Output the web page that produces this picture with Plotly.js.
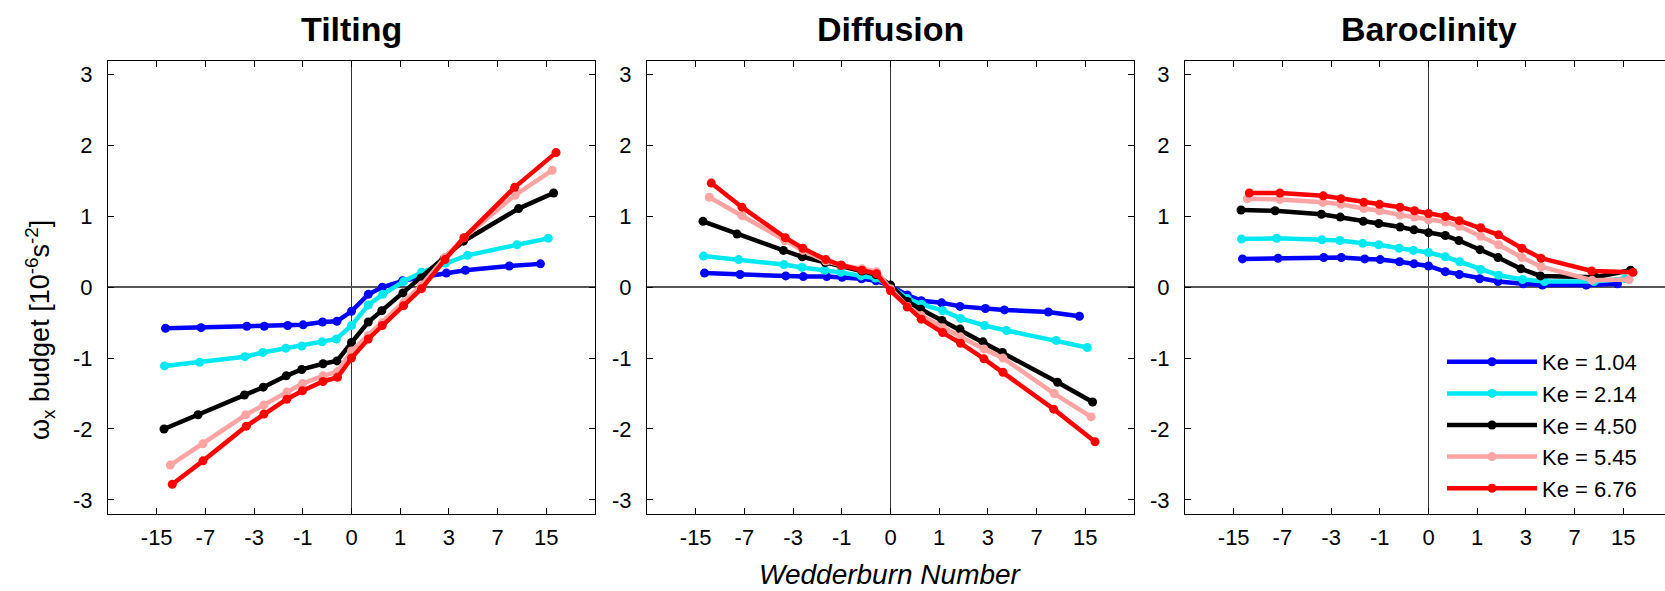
<!DOCTYPE html>
<html>
<head>
<meta charset="utf-8">
<script src="https://cdn.plot.ly/plotly-3.0.1.min.js"></script>
<style>
html,body{margin:0;padding:0;overflow:hidden;background:#fff;}
#chart{width:1680px;height:591px;}
</style>
</head>
<body>
<div id="chart"></div>
<script>
// ---------------- data ----------------
const panelTitles = ["Tilting", "Diffusion", "Baroclinity"];
const xTickLabels = [-15, -7, -3, -1, 0, 1, 3, 7, 15];
const yTickValues = [-3, -2, -1, 0, 1, 2, 3];
const keLabels = ["Ke = 1.04", "Ke = 2.14", "Ke = 4.50", "Ke = 5.45", "Ke = 6.76"];

// Wedderburn numbers of each run (one list per Ke)
const wed_ke104 = [-13.12, -7.51, -3.44, -2.46, -1.48, -0.99, -0.51, -0.23, 0, 0.27, 0.55, 1.07, 1.69, 2.86, 4.06, 8.45, 13.72];
const wed_ke214 = [-13.32, -7.69, -3.56, -2.53, -1.55, -1.03, -0.52, -0.24, 0, 0.27, 0.56, 1.10, 1.71, 2.81, 4.21, 9.56, 15.45];
const wed_ke450 = [-13.42, -7.88, -3.59, -2.51, -1.53, -1.03, -0.50, -0.23, 0, 0.27, 0.54, 1.08, 1.69, 2.73, 3.92, 9.78, 16.75];
const wed_ke545 = [-12.18, -7.28, -3.50, -2.48, -1.51, -1.01, -0.50, -0.22, 0, 0.27, 0.55, 1.10, 1.71, 2.78, 3.96, 9.27, 16.39];
const wed_ke676 = [-11.82, -7.28, -3.47, -2.48, -1.51, -1.01, -0.50, -0.22, 0, 0.27, 0.55, 1.10, 1.71, 2.78, 3.96, 9.20, 17.38];

// Tilting
const tilt_ke104 = [-0.58, -0.57, -0.55, -0.55, -0.54, -0.53, -0.49, -0.48, -0.34, -0.10, 0.00, 0.09, 0.14, 0.20, 0.24, 0.30, 0.33];
const tilt_ke214 = [-1.11, -1.06, -0.98, -0.92, -0.86, -0.83, -0.77, -0.73, -0.54, -0.25, -0.10, 0.08, 0.21, 0.34, 0.45, 0.60, 0.69];
const tilt_ke450 = [-2.00, -1.80, -1.52, -1.41, -1.25, -1.16, -1.08, -1.04, -0.78, -0.49, -0.33, -0.08, 0.13, 0.40, 0.65, 1.11, 1.33];
const tilt_ke545 = [-2.51, -2.21, -1.80, -1.66, -1.48, -1.36, -1.25, -1.19, -0.90, -0.68, -0.50, -0.22, 0.03, 0.42, 0.70, 1.30, 1.65];
const tilt_ke676 = [-2.78, -2.45, -1.96, -1.79, -1.58, -1.46, -1.33, -1.27, -1.00, -0.73, -0.54, -0.26, -0.02, 0.39, 0.70, 1.41, 1.90];

// Diffusion
const diff_ke104 = [0.20, 0.18, 0.16, 0.15, 0.15, 0.14, 0.12, 0.09, 0.02, -0.11, -0.19, -0.22, -0.27, -0.30, -0.32, -0.35, -0.41];
const diff_ke214 = [0.44, 0.39, 0.32, 0.28, 0.24, 0.21, 0.16, 0.13, 0.02, -0.16, -0.24, -0.33, -0.44, -0.54, -0.61, -0.75, -0.85];
const diff_ke450 = [0.93, 0.75, 0.52, 0.43, 0.35, 0.31, 0.23, 0.18, 0.03, -0.20, -0.31, -0.47, -0.59, -0.77, -0.92, -1.34, -1.62];
const diff_ke545 = [1.27, 1.01, 0.66, 0.52, 0.37, 0.31, 0.26, 0.22, -0.02, -0.27, -0.40, -0.57, -0.70, -0.87, -1.00, -1.50, -1.83];
const diff_ke676 = [1.47, 1.13, 0.70, 0.55, 0.39, 0.31, 0.24, 0.19, -0.05, -0.28, -0.45, -0.64, -0.79, -1.01, -1.20, -1.72, -2.18];

// Baroclinity
const baro_ke104 = [0.40, 0.41, 0.42, 0.42, 0.40, 0.39, 0.36, 0.33, 0.30, 0.22, 0.18, 0.12, 0.08, 0.05, 0.03, 0.03, 0.05];
const baro_ke214 = [0.68, 0.69, 0.67, 0.66, 0.62, 0.60, 0.55, 0.52, 0.49, 0.43, 0.36, 0.25, 0.17, 0.11, 0.08, 0.08, 0.12];
const baro_ke450 = [1.09, 1.08, 1.03, 0.99, 0.93, 0.90, 0.85, 0.81, 0.77, 0.73, 0.66, 0.53, 0.42, 0.26, 0.16, 0.14, 0.24];
const baro_ke545 = [1.25, 1.24, 1.20, 1.17, 1.11, 1.08, 1.02, 0.99, 0.95, 0.92, 0.86, 0.72, 0.60, 0.42, 0.29, 0.10, 0.11];
const baro_ke676 = [1.33, 1.33, 1.29, 1.25, 1.20, 1.17, 1.13, 1.08, 1.04, 1.00, 0.94, 0.84, 0.74, 0.55, 0.41, 0.23, 0.21];

// ---------------- build ----------------
// symmetric log axis: position = sign(W) * log2(1 + |W|)
function symlog(w) { return Math.sign(w) * Math.log2(1 + Math.abs(w)); }

const wedList = [wed_ke104, wed_ke214, wed_ke450, wed_ke545, wed_ke676];
const panelData = [
  [tilt_ke104, tilt_ke214, tilt_ke450, tilt_ke545, tilt_ke676],
  [diff_ke104, diff_ke214, diff_ke450, diff_ke545, diff_ke676],
  [baro_ke104, baro_ke214, baro_ke450, baro_ke545, baro_ke676]
];
const colors = ["#0000ff", "#00e8f2", "#000000", "#ffa3a3", "#ff0000"];

const W = 1680, H = 591;
const domainsPx = [[108, 595], [647, 1134], [1185, 1672]];
const yTop = 60.5, yBot = 514;
const yDomain = [(H - yBot) / H, (H - yTop) / H];

const traces = [];
panelData.forEach((series, p) => {
  series.forEach((vals, k) => {
    traces.push({
      x: wedList[k].map(symlog),
      y: vals,
      xaxis: p === 0 ? "x" : "x" + (p + 1),
      yaxis: p === 0 ? "y" : "y" + (p + 1),
      type: "scatter",
      mode: "lines+markers",
      name: keLabels[k],
      legendgroup: keLabels[k],
      showlegend: p === 2,
      line: { color: colors[k], width: 4.5 },
      marker: { color: colors[k], size: 9 },
      hoverinfo: "x+y"
    });
  });
});

const font = "Liberation Sans, Arial, sans-serif";
const layout = {
  width: W, height: H,
  margin: { l: 0, r: 0, t: 0, b: 0 },
  paper_bgcolor: "#fff", plot_bgcolor: "#fff",
  font: { family: font, size: 22, color: "#000" },
  showlegend: true,
  legend: {
    x: 1442 / W, xanchor: "left",
    y: 1 - 341 / H, yanchor: "top",
    bgcolor: "rgba(0,0,0,0)", borderwidth: 0,
    font: { family: font, size: 22, color: "#000" },
    itemwidth: 90,
    tracegroupgap: 0
  },
  annotations: []
};

domainsPx.forEach((d, p) => {
  const sfx = p === 0 ? "" : String(p + 1);
  layout["xaxis" + sfx] = {
    domain: [d[0] / W, d[1] / W],
    anchor: "y" + sfx,
    range: [-5, 5],
    tickmode: "array",
    tickvals: xTickLabels.map(symlog),
    ticktext: xTickLabels.map(String),
    ticks: "inside", ticklen: 6, tickwidth: 1, tickcolor: "#000",
    showline: true, linecolor: "#000", linewidth: 1, mirror: "ticks",
    showgrid: false,
    zeroline: true, zerolinecolor: "#333", zerolinewidth: 1.5,
    tickfont: { family: font, size: 22, color: "#000" },
    ticklabelstandoff: 4,
    fixedrange: true
  };
  layout["yaxis" + sfx] = {
    domain: yDomain,
    anchor: "x" + sfx,
    range: [-3.2, 3.2],
    tickmode: "array",
    tickvals: yTickValues,
    ticktext: yTickValues.map(String),
    ticks: "inside", ticklen: 6, tickwidth: 1, tickcolor: "#000",
    showline: true, linecolor: "#000", linewidth: 1, mirror: "ticks",
    showgrid: false,
    zeroline: true, zerolinecolor: "#555", zerolinewidth: 2,
    tickfont: { family: font, size: 22, color: "#000" },
    ticklabelstandoff: 10,
    fixedrange: true
  };
  layout.annotations.push({
    text: "<b>" + panelTitles[p] + "</b>",
    xref: "paper", yref: "paper",
    x: (d[0] + d[1]) / 2 / W, y: 1 - 29 / H,
    xanchor: "center", yanchor: "middle",
    showarrow: false,
    font: { family: font, size: 34, color: "#000" }
  });
});

layout.annotations.push({
  text: "<i>Wedderburn Number</i>",
  xref: "paper", yref: "paper",
  x: 890 / W, y: 1 - 574 / H,
  xanchor: "center", yanchor: "middle",
  showarrow: false,
  font: { family: font, size: 28, color: "#000" }
});
layout.annotations.push({
  text: "ω<sub>x</sub> budget [10<sup>-6</sup>s<sup>-2</sup>]",
  xref: "paper", yref: "paper",
  x: 40 / W, y: 1 - 330 / H,
  xanchor: "center", yanchor: "middle",
  textangle: -90,
  showarrow: false,
  font: { family: font, size: 27, color: "#000" }
});

Plotly.newPlot("chart", traces, layout, { displayModeBar: false, staticPlot: true });
</script>
</body>
</html>
